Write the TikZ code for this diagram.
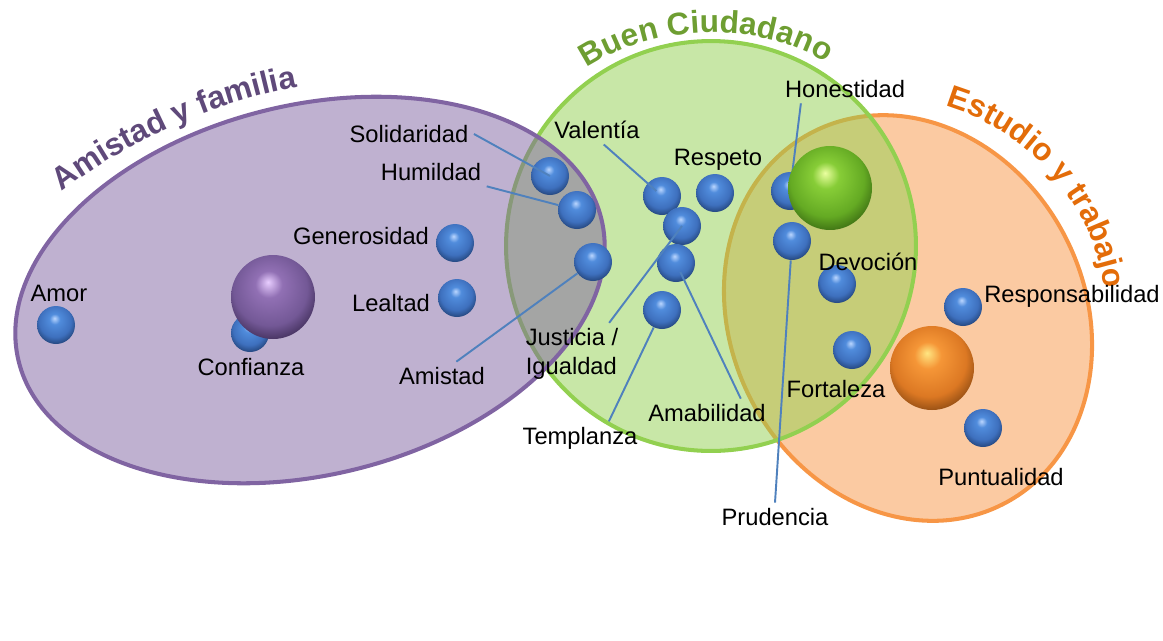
\documentclass[tikz,border=0pt]{standalone}
\usepackage{fontspec}
\setmainfont{Liberation Sans}
\usetikzlibrary{decorations.text}
\definecolor{cPurple}{HTML}{8064A2}
\definecolor{cGreen}{HTML}{92D050}
\definecolor{cOrange}{HTML}{F79646}
\definecolor{cLine}{HTML}{4F81BD}
\definecolor{tPurple}{HTML}{5F497A}
\definecolor{tGreen}{HTML}{6E9E32}
\definecolor{tOrange}{HTML}{E36C09}
\pgfdeclareradialshading{sphBlue}{\pgfpoint{-2bp}{9bp}}{color(0bp)=(white!55!cyan!60!blue!40); color(7bp)=({rgb,255:red,80;green,140;blue,220}); color(21bp)=({rgb,255:red,62;green,112;blue,190}); color(31bp)=({rgb,255:red,30;green,60;blue,110}); color(50bp)=({rgb,255:red,30;green,60;blue,110})}
\pgfdeclareradialshading{sphPurple}{\pgfpoint{-3bp}{9bp}}{color(0bp)=({rgb,255:red,232;green,205;blue,255}); color(8bp)=({rgb,255:red,145;green,112;blue,180}); color(22bp)=({rgb,255:red,115;green,88;blue,150}); color(32bp)=({rgb,255:red,55;green,38;blue,78}); color(50bp)=({rgb,255:red,55;green,38;blue,78})}
\pgfdeclareradialshading{sphGreen}{\pgfpoint{-3bp}{9bp}}{color(0bp)=({rgb,255:red,235;green,255;blue,160}); color(8bp)=({rgb,255:red,135;green,205;blue,55}); color(22bp)=({rgb,255:red,100;green,170;blue,35}); color(32bp)=({rgb,255:red,50;green,95;blue,15}); color(50bp)=({rgb,255:red,50;green,95;blue,15})}
\pgfdeclareradialshading{sphOrange}{\pgfpoint{-3bp}{9bp}}{color(0bp)=({rgb,255:red,255;green,230;blue,130}); color(8bp)=({rgb,255:red,245;green,150;blue,55}); color(22bp)=({rgb,255:red,220;green,120;blue,35}); color(32bp)=({rgb,255:red,125;green,65;blue,15}); color(50bp)=({rgb,255:red,125;green,65;blue,15})}
\begin{document}
\begin{tikzpicture}[x = 0.02cm, y = -0.02cm,
    region/.style = {line width = 2.3pt, fill opacity = 0.5},
    lbl/.style = {font = \fontsize{13.5}{16.5}\selectfont, inner sep = 3pt},
    bball/.style = {circle, inner sep = 0pt, minimum size = 0.76cm, shading = sphBlue},
    big/.style = {circle, inner sep = 0pt, minimum size = 1.68cm, shading = #1},
    con/.style = {draw = cLine, line width = 1.1pt},
    ttl/.style = {decorate, decoration = {text along path, text align = left, text color = #1}}]
    \useasboundingbox (0, 0) rectangle (1163, 640);

    \draw [region, draw = cOrange, fill = cOrange, rotate around = {27:(908, 318)}] (908, 318) ellipse [x radius = 3.54cm, y radius = 4.18cm];
    \draw [region, draw = cGreen, fill = cGreen] (711, 246) circle [radius = 4.1cm];
    \draw [region, draw = cPurple, fill = cPurple, rotate around = {13.7:(310, 290)}] (310, 290) ellipse [x radius = 6cm, y radius = 3.7cm];

    \path [ttl = tPurple, decoration = {text = {|\bfseries\fontsize{18}{18}\selectfont|Amistad y familia}}] (62, 192) .. controls (115, 150) and (205, 103) .. (300, 87) -- (360, 82);
    \path [ttl = tGreen, decoration = {text = {|\bfseries\fontsize{18}{18}\selectfont|Buen Ciudadano}}] (587, 68) .. controls (657, 22) and (762, 20) .. (832, 66) -- (872, 100);
    \path [ttl = tOrange, decoration = {text = {|\bfseries\fontsize{18}{18}\selectfont|Estudio y trabajo}}] (945, 106) .. controls (1010, 125) and (1080, 180) .. (1102, 272) -- (1110, 330);

    \node [bball] (sAmor) at (56, 325) {};
    \node [bball] (sConf) at (250, 333) {};
    \node [bball] (sGen) at (455, 243) {};
    \node [bball] (sLea) at (457, 298) {};
    \node [bball] (sSol) at (550, 176) {};
    \node [bball] (sHum) at (577, 210) {};
    \node [bball] (sAmi) at (593, 262) {};
    \node [bball] (sVal) at (662, 196) {};
    \node [bball] (sRes) at (715, 193) {};
    \node [bball] (sJus) at (682, 226) {};
    \node [bball] (sAma) at (676, 263) {};
    \node [bball] (sTem) at (662, 310) {};
    \node [bball] (sHon) at (790, 191) {};
    \node [bball] (sPru) at (792, 241) {};
    \node [bball] (sDev) at (837, 284) {};
    \node [bball] (sFor) at (852, 350) {};
    \node [bball] (sRsp) at (963, 307) {};
    \node [bball] (sPun) at (983, 428) {};

    \node [lbl] (lAmor) at (59, 293) {Amor};
    \node [lbl] (lConf) at (251, 367) {Confianza};
    \node [lbl] (lGen) at (361, 236) {Generosidad};
    \node [lbl] (lLea) at (391, 303) {Lealtad};
    \node [lbl] (lSol) at (409, 134) {Solidaridad};
    \node [lbl] (lHum) at (431, 172) {Humildad};
    \node [lbl] (lAmi) at (442, 376) {Amistad};
    \node [lbl] (lVal) at (597, 130) {Valentía};
    \node [lbl] (lRes) at (718, 160) {Respeto};
    \node [lbl, align = left] (lJus) at (572, 354) {Justicia /\\Igualdad};
    \node [lbl] (lTem) at (580, 438) {Templanza};
    \node [lbl] (lAma) at (707, 413) {Amabilidad};
    \node [lbl] (lHon) at (845, 89) {Honestidad};
    \node [lbl] (lFor) at (836, 389) {Fortaleza};
    \node [lbl] (lPru) at (775, 517) {Prudencia};
    \node [lbl] (lRsp) at (1072, 296) {Responsabilidad};
    \node [lbl] (lPun) at (1001, 477) {Puntualidad};

    \draw [con] (lSol.east) -- (sSol.center);
    \draw [con] (lHum.south east) -- (sHum);
    \draw [con] (lAmi.45) -- (sAmi);
    \draw [con, shorten >= 0.15cm] (lVal.-65) -- (sVal.center);
    \draw [con] (lJus.40) -- (sJus.center);
    \draw [con] (lTem.30) -- (sTem);
    \draw [con, shorten >= 0.2cm] (lAma.23) -- (sAma.center);
    \draw [con, shorten >= 0.16cm] (lHon.-162) -- (sHon.center);
    \draw [con] (lPru.north) -- (sPru);

    \node [big = sphPurple] (bPur) at (273, 297) {};
    \node [big = sphGreen] (bGre) at (830, 188) {};
    \node [big = sphOrange] (bOra) at (932, 368) {};
    \node [lbl] (lDev) at (868, 262) {Devoción};
\end{tikzpicture}
\end{document}
